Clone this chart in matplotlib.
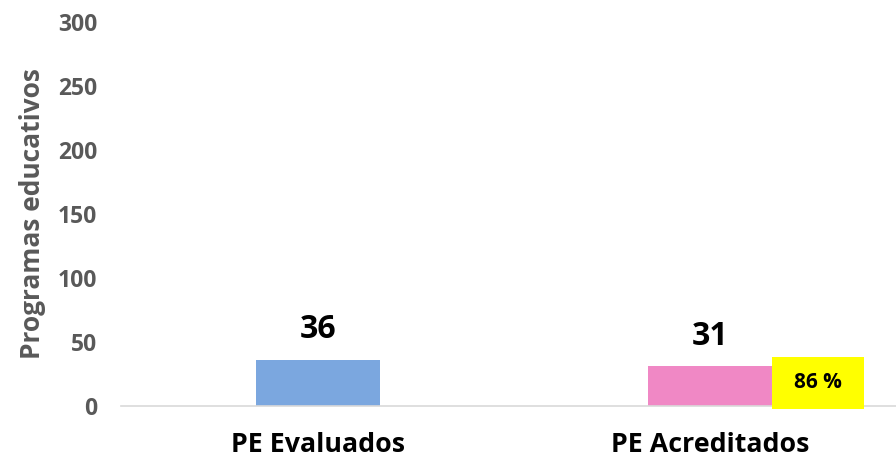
import matplotlib
matplotlib.use("Agg")
import matplotlib.pyplot as plt
from matplotlib.patches import Rectangle

categories = ["PE Evaluados", "PE Acreditados"]
values = [36, 31]
colors = ["#7BA7DF", "#F088C5"]
pct_label = "86 %"
yticks = [0, 50, 100, 150, 200, 250, 300]
ylabel = "Programas educativos"

plt.rcParams['font.family'] = ['Open Sans', 'DejaVu Sans']

fig = plt.figure(figsize=(8.96, 4.61), dpi=100)
ax = fig.add_axes([121/896, 1-406/461, 775/896, 384/461])

x = list(range(len(categories)))
width = 0.316
bars = ax.bar(x, values, width=width, color=colors, zorder=2)

ax.set_ylim(0, 300)
ax.set_xlim(-0.5026, 1.4745)
ax.set_yticks(yticks)
ax.set_yticklabels([str(t) for t in yticks], fontsize=16.5, fontweight='bold', color='#595959')
ax.set_xticks(x)
ax.set_xticklabels(categories, fontsize=19.3, fontweight='bold', color='black')
ax.tick_params(axis='y', length=0, pad=17)
ax.tick_params(axis='x', length=0, pad=19)
ax.set_ylabel(ylabel, fontsize=19, fontweight='bold', color='#595959', labelpad=9)

for s in ['top', 'right', 'left']:
    ax.spines[s].set_visible(False)
ax.spines['bottom'].set_color('#D9D9D9')
ax.spines['bottom'].set_linewidth(1.2)

for b, v in zip(bars, values):
    ax.text(b.get_x() + b.get_width()/2, v + 17, str(v), ha='center', va='baseline',
            fontsize=23, fontweight='bold', color='black')

# yellow percentage box next to the second bar
b2 = bars[1]
bx = b2.get_x() + b2.get_width()
bw = 0.235
rect = Rectangle((bx, -2.4), bw, 40.8, facecolor='#FFFF00', edgecolor='none',
                 zorder=3, clip_on=False)
ax.add_patch(rect)
ax.text(bx + bw/2, 18, pct_label, ha='center', va='center', fontsize=15,
        fontweight='bold', color='black', zorder=4)

fig.savefig("out.png", dpi=100)
